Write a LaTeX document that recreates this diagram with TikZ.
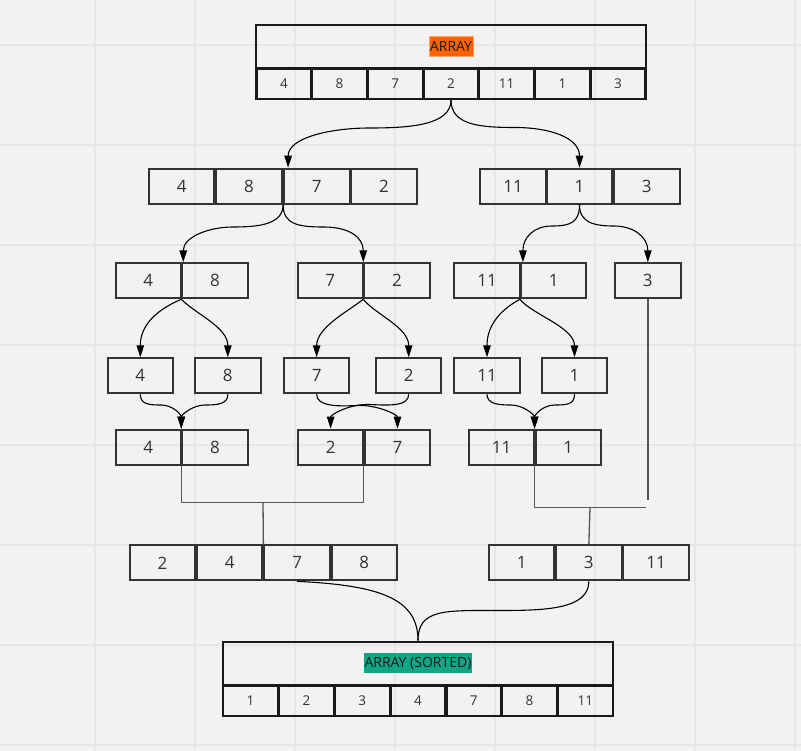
\documentclass[tikz,border=0pt]{standalone}
\usepackage{fontspec}
\setmainfont{Open Sans}
\usetikzlibrary{arrows.meta,calc}
\definecolor{bgc}{HTML}{F2F2F2}
\definecolor{gridc}{HTML}{E6E6E6}
\definecolor{ink}{HTML}{333333}
\definecolor{framec}{HTML}{1A1A1A}
\definecolor{orng}{HTML}{FF6200}
\definecolor{orngb}{HTML}{FFA366}
\definecolor{sortgreen}{HTML}{12A585}
\definecolor{mergec}{HTML}{555555}
\begin{document}
\begin{tikzpicture}[x=1pt,y=-1pt,
  bigcell/.style={draw=framec, line width=2.2pt, minimum width=54.7pt, minimum height=30pt, inner sep=0pt, font=\fontsize{13.5}{16}\selectfont, text=ink},
  hdrbox/.style={draw=framec, line width=2.2pt, minimum width=390pt, minimum height=43.3pt, inner sep=0pt},
  cellbox/.style={draw=ink, line width=2pt, minimum width=65.5pt, minimum height=35pt, inner sep=0pt, font=\fontsize{17}{20}\selectfont, text=ink},
  lab/.style={inner xsep=1pt, inner ysep=0pt, minimum height=20pt, font=\fontsize{14}{16}\selectfont, text=framec},
  conn/.style={line width=1.1pt, draw=black, -{Triangle[length=12pt,width=7.5pt]}},
  plainconn/.style={line width=1.1pt, draw=black},
  mline/.style={line width=1.3pt, draw=mergec},
  gridline/.style={line width=1.2pt, draw=gridc}
]
\useasboundingbox (0,0) rectangle (801,751);
\fill[bgc] (0,0) rectangle (801,751);
\foreach \x in {95,195,...,795} \draw[gridline] (\x,0) -- (\x,751);
\foreach \y in {45,145,...,745} \draw[gridline] (0,\y) -- (801,\y);

% top array
\node[hdrbox] (thdr) at (451,46.35) {};
\node[lab, fill=orng, draw=orngb, line width=0.6pt] (tlab) at (thdr.center) {ARRAY};
\node[bigcell] (t1) at (283.9,84) {4};
\node[bigcell] (t2) at (339.6,84) {8};
\node[bigcell] (t3) at (395.3,84) {7};
\node[bigcell] (t4) at (451,84) {2};
\node[bigcell] (t5) at (506.7,84) {11};
\node[bigcell] (t6) at (562.4,84) {1};
\node[bigcell] (t7) at (618.1,84) {3};

% level 1
\node[cellbox] (l1a) at (181.65,186.2) {4};
\node[cellbox] (l1b) at (249,186.2) {8};
\node[cellbox] (l1c) at (316.85,186.2) {7};
\node[cellbox] (l1d) at (384,186.2) {2};
\node[cellbox] (l1r1) at (513,186.2) {11};
\node[cellbox] (l1r2) at (579.5,186.2) {1};
\node[cellbox] (l1r3) at (646.85,186.2) {3};

% level 2
\node[cellbox] (l2a1) at (148.35,280.8) {4};
\node[cellbox] (l2a2) at (215,280.8) {8};
\node[cellbox] (l2b1) at (330.3,280.8) {7};
\node[cellbox] (l2b2) at (397,280.8) {2};
\node[cellbox] (l2c1) at (487,280.8) {11};
\node[cellbox] (l2c2) at (553.65,280.8) {1};
\node[cellbox] (l2d) at (647.85,280.8) {3};

% level 3
\node[cellbox] (l3a) at (140.3,375.8) {4};
\node[cellbox] (l3b) at (227.85,375.8) {8};
\node[cellbox] (l3c) at (316.65,375.8) {7};
\node[cellbox] (l3d) at (408.7,375.8) {2};
\node[cellbox] (l3e) at (487,375.8) {11};
\node[cellbox] (l3f) at (574.5,375.8) {1};

% level 4
\node[cellbox] (l4a1) at (148.35,447.15) {4};
\node[cellbox] (l4a2) at (215,447.15) {8};
\node[cellbox] (l4b1) at (330.65,447.15) {2};
\node[cellbox] (l4b2) at (397.5,447.15) {7};
\node[cellbox] (l4c1) at (501.65,447.15) {11};
\node[cellbox] (l4c2) at (568.35,447.15) {1};

% level 5
\node[cellbox] (l5a) at (162.5,562.85) {2};
\node[cellbox] (l5b) at (229.65,562.85) {4};
\node[cellbox] (l5c) at (297.15,562.85) {7};
\node[cellbox] (l5d) at (364.35,562.85) {8};
\node[cellbox] (l5e) at (521.65,562.85) {1};
\node[cellbox] (l5f) at (588.85,562.85) {3};
\node[cellbox] (l5g) at (656,562.85) {11};

% bottom array
\node[hdrbox, minimum width=390.6pt] (bhdr) at (418,663.35) {};
\node[lab, fill=sortgreen] (blab) at (bhdr.center) {ARRAY (SORTED)};
\node[bigcell, minimum width=54.8pt, minimum height=29.7pt] (b1) at (250.6,700.85) {1};
\node[bigcell, minimum width=54.8pt, minimum height=29.7pt] (b2) at (306.4,700.85) {2};
\node[bigcell, minimum width=54.8pt, minimum height=29.7pt] (b3) at (362.2,700.85) {3};
\node[bigcell, minimum width=54.8pt, minimum height=29.7pt] (b4) at (418,700.85) {4};
\node[bigcell, minimum width=54.8pt, minimum height=29.7pt] (b5) at (473.8,700.85) {7};
\node[bigcell, minimum width=54.8pt, minimum height=29.7pt] (b6) at (529.6,700.85) {8};
\node[bigcell, minimum width=54.8pt, minimum height=29.7pt] (b7) at (585.4,700.85) {11};

% waypoints
\coordinate (m1) at (370,128);
\coordinate (m2) at (515,127.5);
\coordinate (m3) at (233,227);
\coordinate (m4) at (324,227);
\coordinate (m5) at (552,226);
\coordinate (m6) at (614,226);
\coordinate (m7) at (161,405);
\coordinate (m8) at (205,405);
\coordinate (m9) at (357,405.5);
\coordinate (m10) at (370,404.5);
\coordinate (m11) at (511,405);
\coordinate (m12) at (555,405);
\coordinate (m13) at (500,610.5);
\coordinate (j1) at (263,502.5);
\coordinate (j2) at (646,507.5);
\coordinate (j3) at (647.85,500);
\coordinate (j4) at (590,507.5);

% top split
\draw[conn] (t4.south) .. controls +(0,25) and +(40,0) .. (m1) .. controls +(-40,0) and +(0,-30) .. ([xshift=5pt]l1c.north west);
\draw[conn] (t4.south) .. controls +(0,25) and +(-35,0) .. (m2) .. controls +(35,0) and +(0,-30) .. (l1r2.north);

% level 1 -> level 2
\draw[conn] (l1c.south west) .. controls +(0,20) and +(25,0) .. (m3) .. controls +(-25,0) and +(0,-25) .. ([xshift=2pt]l2a2.north west);
\draw[conn] (l1c.south west) .. controls +(0,20) and +(-25,0) .. (m4) .. controls +(25,0) and +(0,-25) .. (l2b2.north west);
\draw[conn] (l1r2.south) .. controls +(0,18) and +(18,0) .. (m5) .. controls +(-18,0) and +(0,-25) .. ([xshift=3pt]l2c2.north west);
\draw[conn] (l1r2.south) .. controls +(0,18) and +(-20,0) .. (m6) .. controls +(20,0) and +(0,-25) .. (l2d.north);

% level 2 -> level 3
\draw[conn] (l2a2.south west) .. controls +(-28,12) and +(0,-30) .. (l3a.north);
\draw[conn] (l2a2.south west) .. controls +(15,15) and +(0,-30) .. (l3b.north);
\draw[conn] (l2b2.south west) .. controls +(-15,12) and +(0,-30) .. (l3c.north);
\draw[conn] (l2b2.south west) .. controls +(12,15) and +(0,-30) .. (l3d.north);
\draw[conn] (l2c2.south west) .. controls +(-22,12) and +(0,-30) .. (l3e.north);
\draw[conn] (l2c2.south west) .. controls +(12,15) and +(0,-30) .. (l3f.north);

% level 3 -> level 4
\draw[conn] (l3a.south) .. controls +(0,10) and +(-12,0) .. (m7) .. controls +(12,0) and +(0,-14) .. (l4a2.north west);
\draw[conn] (l3b.south) .. controls +(0,10) and +(12,0) .. (m8) .. controls +(-12,0) and +(0,-14) .. (l4a2.north west);
\draw[conn] (l3c.south) .. controls +(0,12) and +(-20,1) .. (m9) .. controls +(20,-1) and +(0,-14) .. (l4b2.north);
\draw[conn] (l3d.south) .. controls +(0,12) and +(20,1) .. (m10) .. controls +(-20,-1) and +(0,-14) .. (l4b1.north);
\draw[conn] (l3e.south) .. controls +(0,10) and +(-12,0) .. (m11) .. controls +(12,0) and +(0,-14) .. (l4c2.north west);
\draw[conn] (l3f.south) .. controls +(0,10) and +(12,0) .. (m12) .. controls +(-12,0) and +(0,-14) .. (l4c2.north west);

% merge lines
\draw[mline] (l4a2.south west) |- (j1);
\draw[mline] (l4b2.south west) |- (j1);
\draw[mline] (j1) -- (l5c.north west);
\draw[mline] (l4c2.south west) |- (j2);
\draw[mline] (l2d.south) -- (j3);
\draw[mline] (j4) -- (l5f.north);

% level 5 -> sorted
\draw[plainconn] (l5c.south) .. controls +(83,4) and +(0,-42) .. (bhdr.north);
\draw[plainconn] (l5f.south) .. controls +(0,28) and +(45,0) .. (m13) .. controls +(-55,0) and +(0,-32) .. (bhdr.north);
\end{tikzpicture}
\end{document}
